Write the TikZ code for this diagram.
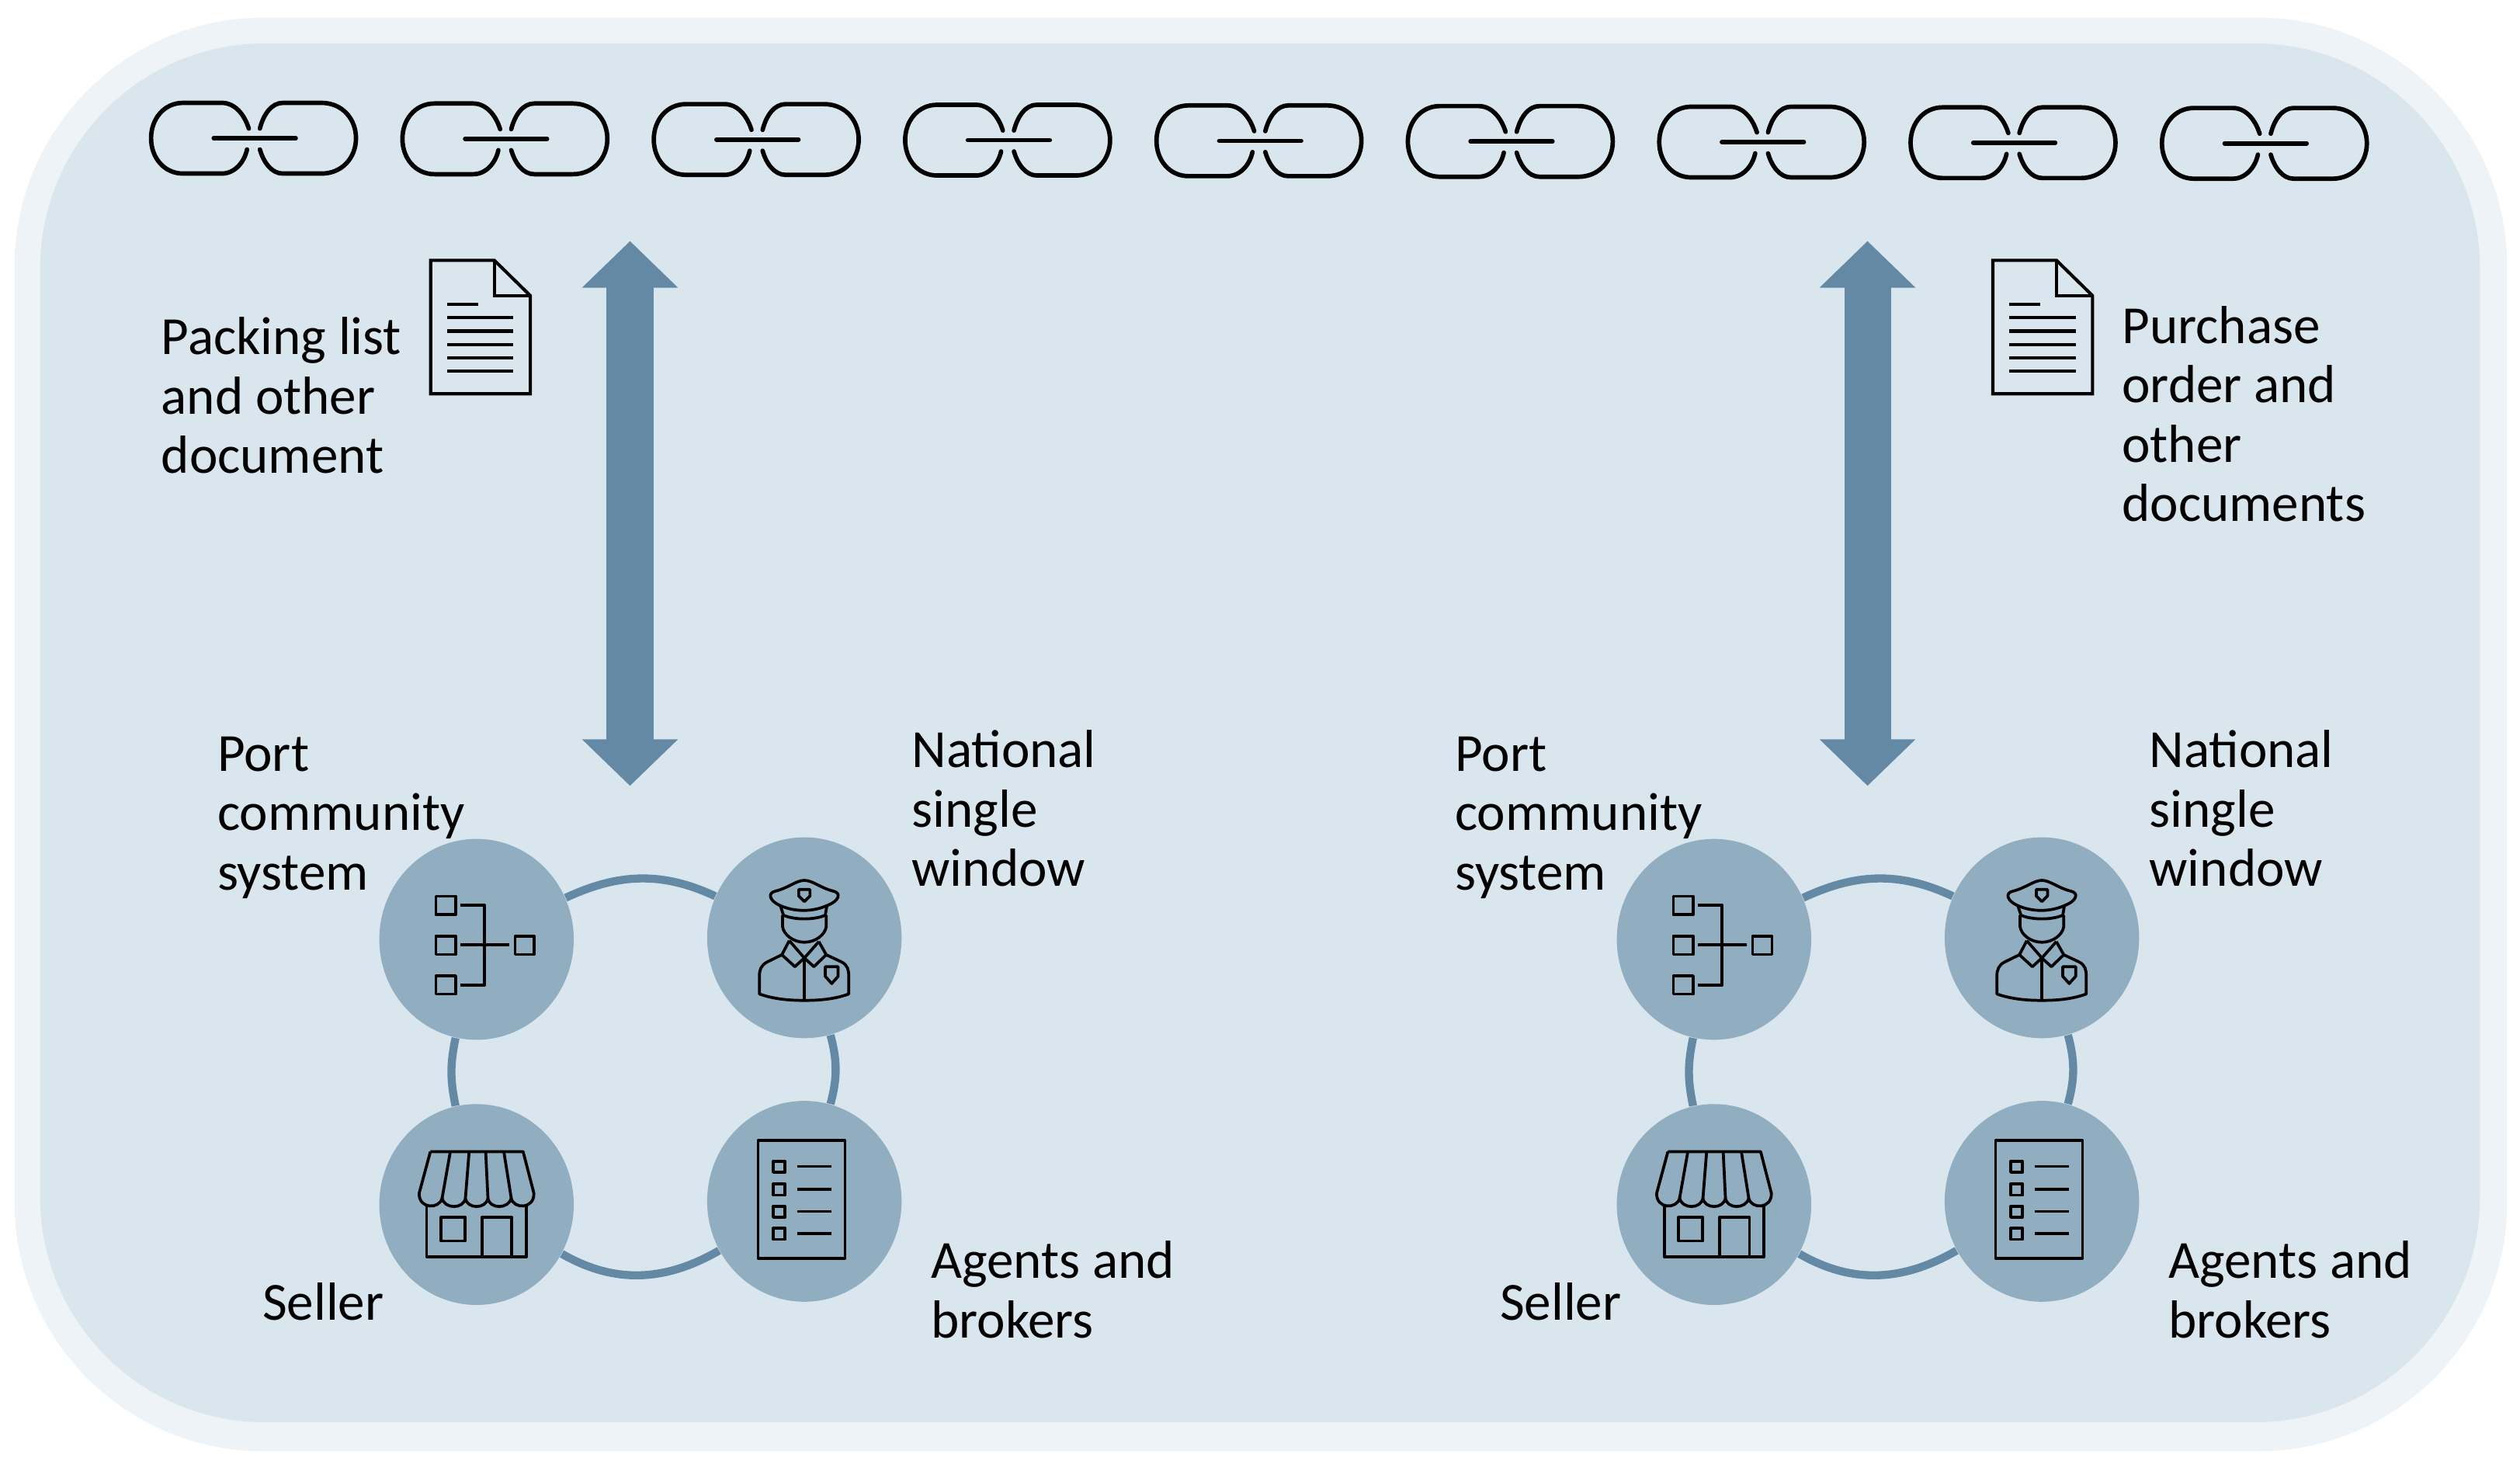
\documentclass[tikz,border=0pt]{standalone}
\usepackage{fontspec}
\setmainfont{Carlito}
\usetikzlibrary{arrows.meta,shapes.geometric}
\definecolor{outerbg}{HTML}{EDF3F7}
\definecolor{innerbg}{HTML}{D9E6EE}
\definecolor{steel}{HTML}{6389A5}
\definecolor{disc}{HTML}{91ADC0}
\tikzset{
    captext/.style={anchor=north west,inner sep=0pt,align=left,font=\fontsize{19}{21.06}\selectfont},
    disk/.style={ellipse,fill=disc,inner sep=0pt,minimum width=2.42cm,minimum height=2.5cm},
    ringline/.style={draw=steel,line width=0.1cm},
    bigarrow/.style={draw=steel,line width=0.58cm,{Triangle[length=0.58cm,width=1.16cm,fill=steel]}-{Triangle[length=0.58cm,width=1.16cm,fill=steel]}},
    chainline/.style={line width=0.055cm,line cap=round},
    docline/.style={line width=0.04cm},
    iconline/.style={line width=0.036cm,line join=round}
}
\begin{document}
\begin{tikzpicture}[x=0.02cm,y=-0.02cm]
    \useasboundingbox ( 0, 0 ) rectangle ( 1568, 913 );

    % фон
    \fill [outerbg,rounded corners=3.1cm] ( 9, 11 ) rectangle ( 1560, 903 );
    \fill [innerbg,rounded corners=2.8cm] ( 25, 27 ) rectangle ( 1543, 885 );

    % цепь
    \foreach \i in {0,...,8} {
        \begin{scope}[shift={({158+156.4*\i},{86+0.4*\i})}]
            \draw [chainline] ( -3.2, -6 ) .. controls ( -6, -15 ) and ( -12, -22 ) .. ( -20, -22 ) -- ( -44, -22 )
                .. controls ( -56, -22 ) and ( -64, -12 ) .. ( -64, 0 ) .. controls ( -64, 12 ) and ( -56, 22 ) .. ( -44, 22 )
                -- ( -20, 22 ) .. controls ( -12, 22 ) and ( -6, 15 ) .. ( -4.3, 7 );
            \draw [chainline] ( 3.7, -6 ) .. controls ( 6, -15 ) and ( 11, -22 ) .. ( 18, -22 ) -- ( 42, -22 )
                .. controls ( 55, -22 ) and ( 63.5, -12 ) .. ( 63.5, 0 ) .. controls ( 63.5, 12 ) and ( 55, 22 ) .. ( 42, 22 )
                -- ( 18, 22 ) .. controls ( 11, 22 ) and ( 6, 15 ) .. ( 3.7, 7 );
            \draw [chainline] ( -25, 0 ) -- ( 26, 0 );
        \end{scope}
    }

    % документы
    \foreach \dx in {0,972} {
        \begin{scope}[shift={(\dx,0)}]
            \draw [docline,line join=miter] ( 268, 162 ) -- ( 307.6, 162 ) -- ( 330, 184 ) -- ( 330, 245 ) -- ( 268, 245 ) -- cycle;
            \draw [docline] ( 307.6, 162 ) -- ( 307.6, 184 ) -- ( 330, 184 );
            \draw [docline] ( 278, 189.5 ) -- ( 297.6, 189.5 );
            \foreach \y in {197.7,206,214.5,222.8,231} {
                \draw [docline] ( 278, \y ) -- ( 319.5, \y );
            }
        \end{scope}
    }
    \node [captext] (packtext) at ( 100, 197 ) {Packing list\\and other\\document};
    \node [captext] (purchtext) at ( 1320, 190 ) {Purchase\\order and\\other\\documents};

    % две группы
    \foreach \dx/\g in {0/a,770/b} {
        \begin{scope}[shift={(\dx,0)}]
            % стрелка
            \coordinate (up\g) at ( 392, 150 );
            \coordinate (down\g) at ( 392, 489 );
            \draw [bigarrow] (up\g) -- (down\g);

            % круги и дуги
            \node [disk] (pcs\g) at ( 296.5, 584.5 ) {};
            \node [disk] (nsw\g) at ( 500.5, 583.5 ) {};
            \node [disk] (seller\g) at ( 296.5, 749.5 ) {};
            \node [disk] (agents\g) at ( 500.5, 747.5 ) {};
            \draw [ringline] (pcs\g) to [out=25,in=155] (nsw\g);
            \draw [ringline] (pcs\g) to [out=-102,in=102] (seller\g);
            \draw [ringline] (nsw\g) to [out=-75,in=75] (agents\g);
            \draw [ringline] (seller\g) to [out=-30,in=-150] (agents\g);

            % подписи
            \node [captext] (pcstext\g) at ( 135, 458 ) {Port\\community\\system};
            \node [captext] (nswtext\g) at ( 567, 454 ) {National\\single\\window};
            \node [captext] (sellertext\g) at ( 163, 798 ) {Seller};
            \node [captext] (agentstext\g) at ( 579, 772 ) {Agents and\\brokers};

            % схема
            \begin{scope}[shift={(296.5,584.5)}]
                \foreach \y in {-26.8,-2,22.7} {
                    \draw [iconline] ( -25.3, \y ) rectangle ( -13, \y+11.4 );
                }
                \draw [iconline] ( 24, -2 ) rectangle ( 36, 9.4 );
                \draw [iconline] ( -10, -21.3 ) -- ( 5, -21.3 ) -- ( 5, 28.6 ) -- ( -10, 28.6 );
                \draw [iconline] ( -10, 3.4 ) -- ( 20.4, 3.4 );
            \end{scope}

            % полицейский
            \begin{scope}[shift={(500.5,583.5)}]
                \draw [iconline] ( -15, -20 ) .. controls ( -22, -23 ) and ( -23, -28 ) .. ( -18, -29 )
                    .. controls ( -10, -31 ) and ( -5, -35.7 ) .. ( 0, -35.7 ) .. controls ( 5, -35.7 ) and ( 10, -31 ) .. ( 18, -29 )
                    .. controls ( 23, -28 ) and ( 22, -23 ) .. ( 14, -20 ) .. controls ( 5, -16 ) and ( -6, -16 ) .. ( -15, -20 );
                \draw [iconline] ( -15, -20 ) -- ( -13, -14 ) .. controls ( -6, -11 ) and ( 6, -11 ) .. ( 13, -14 ) -- ( 14, -20 );
                \draw [iconline] ( -3.5, -30 ) -- ( 3.5, -30 ) -- ( 3.5, -26 ) -- ( 0, -22.5 ) -- ( -3.5, -26 ) -- cycle;
                \draw [iconline] ( -13.6, -14 ) -- ( -13.6, -7 ) .. controls ( -13, -2 ) and ( -7, 2.8 ) .. ( 0, 2.8 )
                    .. controls ( 7, 2.8 ) and ( 13, -2 ) .. ( 13.6, -7 ) -- ( 13.6, -14 );
                \draw [iconline] ( -9.4, 1.8 ) -- ( -14, 10.6 ) -- ( -5.9, 18 ) -- ( 0, 12.6 ) -- ( 5.9, 18 ) -- ( 13.6, 10.6 ) -- ( 9, 2.4 );
                \draw [iconline] ( -9.4, 1.8 ) -- ( 0, 12.6 ) -- ( 9, 2.4 );
                \draw [iconline] ( -14, 10.6 ) -- ( -23, 15 ) .. controls ( -27, 17 ) and ( -28, 20 ) .. ( -28, 24 ) -- ( -28, 35 )
                    .. controls ( -18, 38.5 ) and ( -8, 39 ) .. ( 0, 39 ) .. controls ( 8, 39 ) and ( 18, 38.5 ) .. ( 27.6, 35 )
                    -- ( 27.6, 24 ) .. controls ( 27.6, 20 ) and ( 27, 17 ) .. ( 23, 15 ) -- ( 13.6, 10.6 );
                \draw [iconline] ( 0, 12.6 ) -- ( 0, 39 );
                \draw [iconline] ( 13, 18 ) -- ( 21, 18 ) -- ( 21, 24 ) -- ( 17, 28.5 ) -- ( 13, 24 ) -- cycle;
            \end{scope}

            % магазин
            \begin{scope}[shift={(296.5,749.5)}]
                \draw [iconline] ( -28.7, -32.9 ) -- ( 29, -32.9 ) -- ( 35.7, -7 );
                \draw [iconline] ( -28.7, -32.9 ) -- ( -35.7, -7 );
                \draw [iconline] ( -35.7, -7 ) .. controls ( -36, 3 ) and ( -23, 3 ) .. ( -21.4, -4 )
                    .. controls ( -20, 3 ) and ( -8, 3 ) .. ( -6.9, -4 ) .. controls ( -6, 3 ) and ( 6, 3 ) .. ( 7.1, -4 )
                    .. controls ( 8, 3 ) and ( 20, 3 ) .. ( 21.6, -4 ) .. controls ( 23, 3 ) and ( 36, 3 ) .. ( 35.7, -7 );
                \draw [iconline] ( -16.3, -32.9 ) -- ( -21.4, -4 );
                \draw [iconline] ( -4.6, -32.9 ) -- ( -6.9, -4 );
                \draw [iconline] ( 5.7, -32.9 ) -- ( 7.1, -4 );
                \draw [iconline] ( 17, -32.9 ) -- ( 21.6, -4 );
                \draw [iconline] ( -31, 0 ) -- ( -31, 32.5 ) -- ( 31, 32.5 ) -- ( 31, 0 );
                \draw [iconline] ( -22, 7.9 ) rectangle ( -7, 22.7 );
                \draw [iconline] ( 3.4, 32.5 ) -- ( 3.4, 7.9 ) -- ( 22, 7.9 ) -- ( 22, 32.5 );
            \end{scope}

            % список
            \begin{scope}[shift={(500.5,747.5)}]
                \draw [iconline] ( -28.8, -37.8 ) rectangle ( 25.3, 35.5 );
                \foreach \y in {-25,-10.8,3,16.8} {
                    \draw [iconline] ( -19.4, \y ) rectangle ( -12, \y+6.9 );
                    \draw [iconline] ( -4.2, \y+3.3 ) -- ( 16.8, \y+3.3 );
                }
            \end{scope}
        \end{scope}
    }
\end{tikzpicture}
\end{document}
